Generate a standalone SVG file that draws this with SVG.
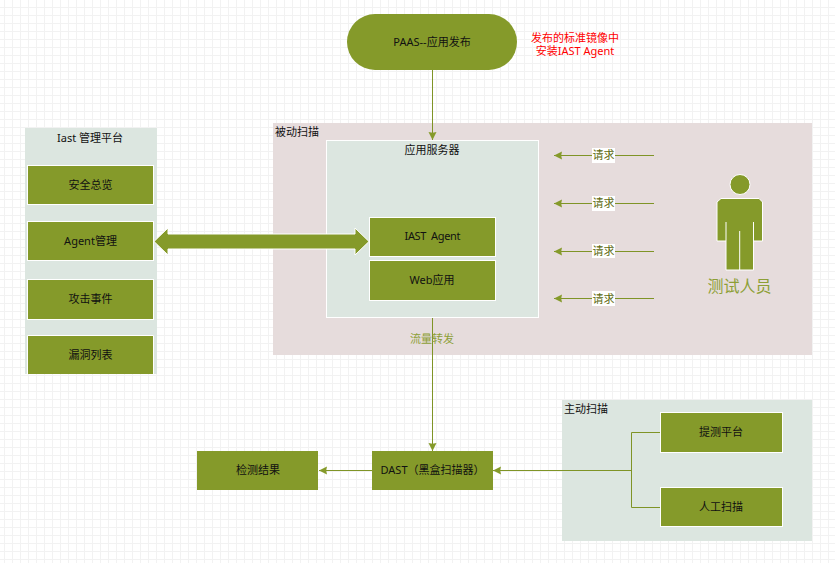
<svg xmlns="http://www.w3.org/2000/svg" width="835" height="563" viewBox="0 0 835 563">
<style>
text{font-family:"Noto Sans","Noto Sans CJK SC",sans-serif;font-size:11px;fill:#111}
.m{text-anchor:middle}
.b{fill:#859a2a;stroke:#fff;stroke-width:1}
.f{fill:#859a2a}
.p{fill:#dce6e0}
.l{fill:none;stroke:#7f9426;stroke-width:1}
.q{fill:#5c6a10}
</style>
<defs>
<pattern id="grid" width="8" height="8" patternUnits="userSpaceOnUse" x="0" y="3">
<path d="M4.500 0V8M0 4.500H8" fill="none" stroke="#f2f2f2" stroke-width="1"/>
</pattern>
<marker id="a" markerUnits="userSpaceOnUse" markerWidth="8" markerHeight="9" refX="8" refY="4.500" orient="auto">
<path d="M0 0.500L8 4.500L0 8.500L0.800 4.500Z" fill="#859a2a"/>
</marker>
</defs>
<rect width="835" height="563" fill="#fff"/>
<rect width="835" height="563" fill="url(#grid)"/>

<g id="passive-zone"><rect x="273" y="123" width="539" height="232" fill="#e6dcdc"/><text x="275" y="136">被动扫描</text></g>
<g id="platform-zone"><rect class="p" x="25" y="128" width="132" height="246"/><text class="m" x="90" y="141.500">Iast 管理平台</text></g>
<g id="active-zone"><rect class="p" x="562" y="400" width="250" height="141"/><text x="564" y="413">主动扫描</text></g>
<g id="app-server"><rect class="p" x="326.500" y="140.500" width="212" height="177" stroke="#fff"/><text class="m" x="432" y="154">应用服务器</text></g>

<g id="connectors">
<path class="l" d="M432.500 70V140" marker-end="url(#a)"/>
<path class="l" d="M432.500 318V451" marker-end="url(#a)"/>
<path class="l" d="M372 470.500H319" marker-end="url(#a)"/>
<path class="l" d="M632 470.500H493" marker-end="url(#a)"/>
<path class="l" d="M660 432.500H631.500V507.500H660"/>
<path class="l" d="M654 155.500H554" marker-end="url(#a)"/>
<path class="l" d="M654 203.500H554" marker-end="url(#a)"/>
<path class="l" d="M654 251.500H554" marker-end="url(#a)"/>
<path class="l" d="M654 298.500H554" marker-end="url(#a)"/>
<path class="f" d="M154 241.500L168 228V234H355V228L369 241.500L355 255V249H168V255Z" stroke="#fff" stroke-width="1"/>
<rect x="592" y="148" width="23" height="15" fill="#fff"/>
<rect x="592" y="196" width="23" height="15" fill="#fff"/>
<rect x="592" y="244" width="23" height="14" fill="#fff"/>
<rect x="592" y="291" width="23" height="15" fill="#fff"/>
<text class="m q" x="603.500" y="159">请求</text>
<text class="m q" x="603.500" y="207">请求</text>
<text class="m q" x="603.500" y="255">请求</text>
<text class="m q" x="603.500" y="303">请求</text>
<text class="m" x="432" y="343" style="fill:#8d9f36">流量转发</text>
</g>

<g id="paas"><rect class="f" x="347" y="14" width="170" height="56" rx="28"/><text class="m" x="432" y="46">PAAS--应用发布</text></g>
<g id="note"><text class="m" x="575" y="41.500" style="fill:#f00">发布的标准镜像中</text><text class="m" x="575" y="55" style="fill:#f00">安装IAST Agent</text></g>
<g id="overview"><rect class="b" x="27.500" y="165.500" width="126" height="39"/><text class="m" x="90.500" y="189">安全总览</text></g>
<g id="agent-mgmt"><rect class="b" x="27.500" y="221.500" width="126" height="39"/><text class="m" x="90.500" y="245">Agent管理</text></g>
<g id="attack"><rect class="b" x="27.500" y="279.500" width="126" height="40"/><text class="m" x="90.500" y="303">攻击事件</text></g>
<g id="vuln"><path class="f" d="M27.500 374V335.500H153.500V374Z"/><path d="M27.500 374V335.500H153.500V374" fill="none" stroke="#fff"/><text class="m" x="90.500" y="359">漏洞列表</text></g>
<g id="iast-agent"><rect class="b" x="369.500" y="217.500" width="126" height="39"/><text class="m" x="432.500" y="240" textLength="56">IAST&#160;&#160;Agent</text></g>
<g id="web-app"><rect class="b" x="369.500" y="260.500" width="126" height="40"/><text class="m" x="432" y="284">Web应用</text></g>
<g id="result"><rect class="f" x="197" y="451" width="121" height="39"/><text class="m" x="258" y="474">检测结果</text></g>
<g id="dast"><rect class="f" x="372" y="451" width="121" height="39"/><text class="m" x="432.500" y="473.500">DAST（黑盒扫描器）</text></g>
<g id="report-platform"><rect class="b" x="660.500" y="412.500" width="122" height="40"/><text class="m" x="721" y="436">提测平台</text></g>
<g id="manual"><rect class="b" x="660.500" y="487.500" width="122" height="39"/><text class="m" x="721" y="511">人工扫描</text></g>
<g id="tester">
<circle class="b" cx="740" cy="184.500" r="10"/>
<path class="b" d="M721 198.500H759L762.500 202V241H753.500V270H726V241H717V202Z"/>
<path d="M726 222V241M753.500 222V241M739.700 231V270" fill="none" stroke="#fff"/>
<text class="m" x="739.500" y="292" style="font-size:16px;fill:#8d9f36">测试人员</text>
</g>
</svg>
